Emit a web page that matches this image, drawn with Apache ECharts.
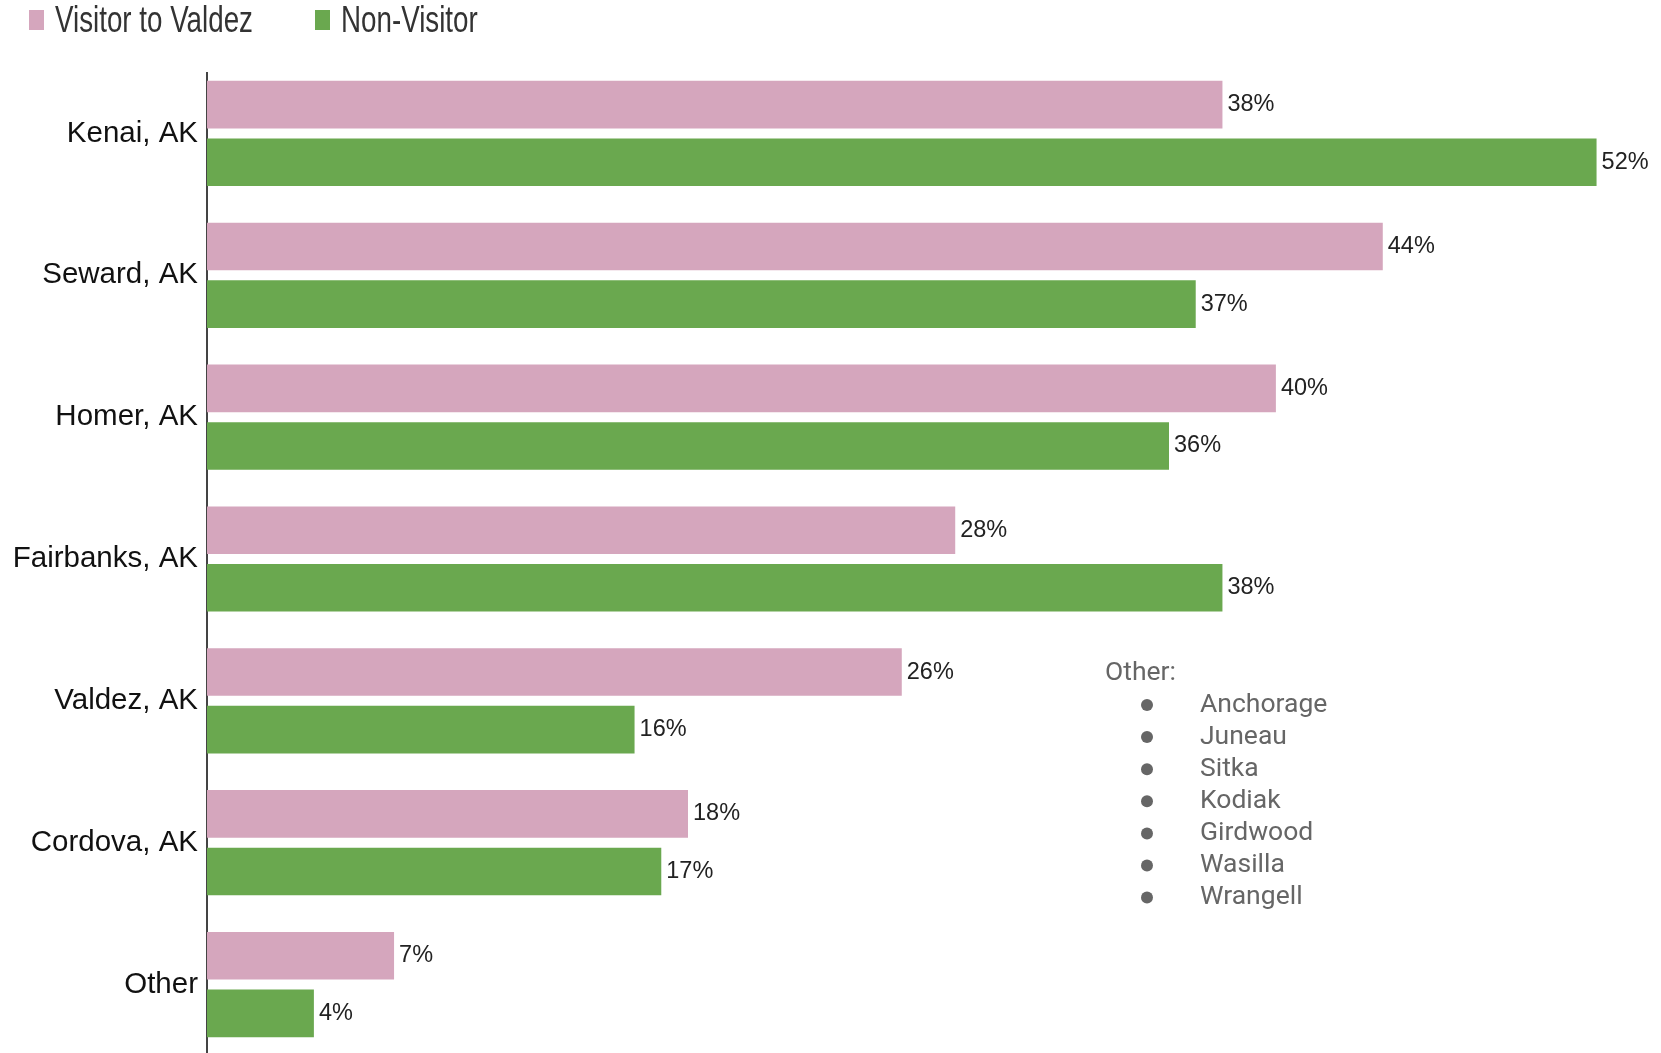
<!DOCTYPE html>
<html>
<head>
<meta charset="utf-8">
<script src="https://cdn.jsdelivr.net/npm/echarts@6/dist/echarts.min.js"></script>
<style>
  html, body { margin: 0; padding: 0; background: #fff; overflow: hidden; }
  #chart { width: 1661px; height: 1062px; }
</style>
</head>
<body>
<div id="chart"></div>
<script>
// 数据
var categories = ['Kenai, AK', 'Seward, AK', 'Homer, AK', 'Fairbanks, AK', 'Valdez, AK', 'Cordova, AK', 'Other'];
var visitorValues = [38, 44, 40, 28, 26, 18, 7];
var nonVisitorValues = [52, 37, 36, 38, 16, 17, 4];
var seriesNames = ['Visitor to Valdez', 'Non-Visitor'];
var otherTitle = 'Other:';
var otherPlaces = ['Anchorage', 'Juneau', 'Sitka', 'Kodiak', 'Girdwood', 'Wasilla', 'Wrangell'];

var pink = '#d5a6bd';
var green = '#6aa84f';
var colors = [pink, green];

var myChart = echarts.init(document.getElementById('chart'));

var graphics = [];

// 图例（窄字体用 scaleX 模拟）
var legendX = [29, 315];
seriesNames.forEach(function (name, i) {
  graphics.push({
    type: 'rect',
    shape: { x: legendX[i], y: 10, width: 15, height: 20 },
    style: { fill: colors[i] }
  });
  graphics.push({
    type: 'text',
    x: legendX[i] + 26,
    y: 22,
    scaleX: 0.75,
    style: {
      text: name, fontSize: 37, fontFamily: 'Liberation Sans', fill: '#333',
      verticalAlign: 'middle'
    }
  });
});

// 纵轴线
graphics.push({
  type: 'line',
  shape: { x1: 207, y1: 72, x2: 207, y2: 1062 },
  style: { stroke: '#444', lineWidth: 2 }
});

// 右侧 "Other" 列表
graphics.push({
  type: 'text',
  x: 1105,
  y: 673,
  style: { text: otherTitle, fontSize: 26.5, fontFamily: 'Roboto', fill: '#666', verticalAlign: 'middle' }
});
otherPlaces.forEach(function (name, i) {
  var cy = 705 + 32.1 * i;
  graphics.push({
    type: 'circle',
    shape: { cx: 1147, cy: cy, r: 6 },
    style: { fill: '#666' }
  });
  graphics.push({
    type: 'text',
    x: 1200,
    y: cy,
    style: { text: name, fontSize: 26.5, fontFamily: 'Roboto', fill: '#666', verticalAlign: 'middle' }
  });
});

var labelStyle = {
  show: true,
  position: 'right',
  distance: 5,
  formatter: '{c}%',
  fontSize: 23.5,
  fontFamily: 'Liberation Sans',
  color: '#222'
};

var option = {
  backgroundColor: '#fff',
  animation: false,
  grid: {
    left: 207,
    right: 11,
    top: 62.5,
    height: 993,
    containLabel: false
  },
  xAxis: {
    type: 'value',
    min: 0,
    max: 54,
    show: false
  },
  yAxis: {
    type: 'category',
    inverse: true,
    data: categories,
    axisLine: { show: false },
    axisTick: { show: false },
    axisLabel: {
      fontSize: 29.5,
      fontFamily: 'Liberation Sans',
      color: '#111',
      margin: 9
    }
  },
  series: [{
    name: seriesNames[0],
    type: 'bar',
    data: visitorValues,
    barWidth: 47.6,
    barGap: '21%',
    itemStyle: { color: pink },
    label: labelStyle
  }, {
    name: seriesNames[1],
    type: 'bar',
    data: nonVisitorValues,
    barWidth: 47.6,
    barGap: '21%',
    itemStyle: { color: green },
    label: labelStyle
  }],
  graphic: graphics
};

myChart.setOption(option);
</script>
</body>
</html>
